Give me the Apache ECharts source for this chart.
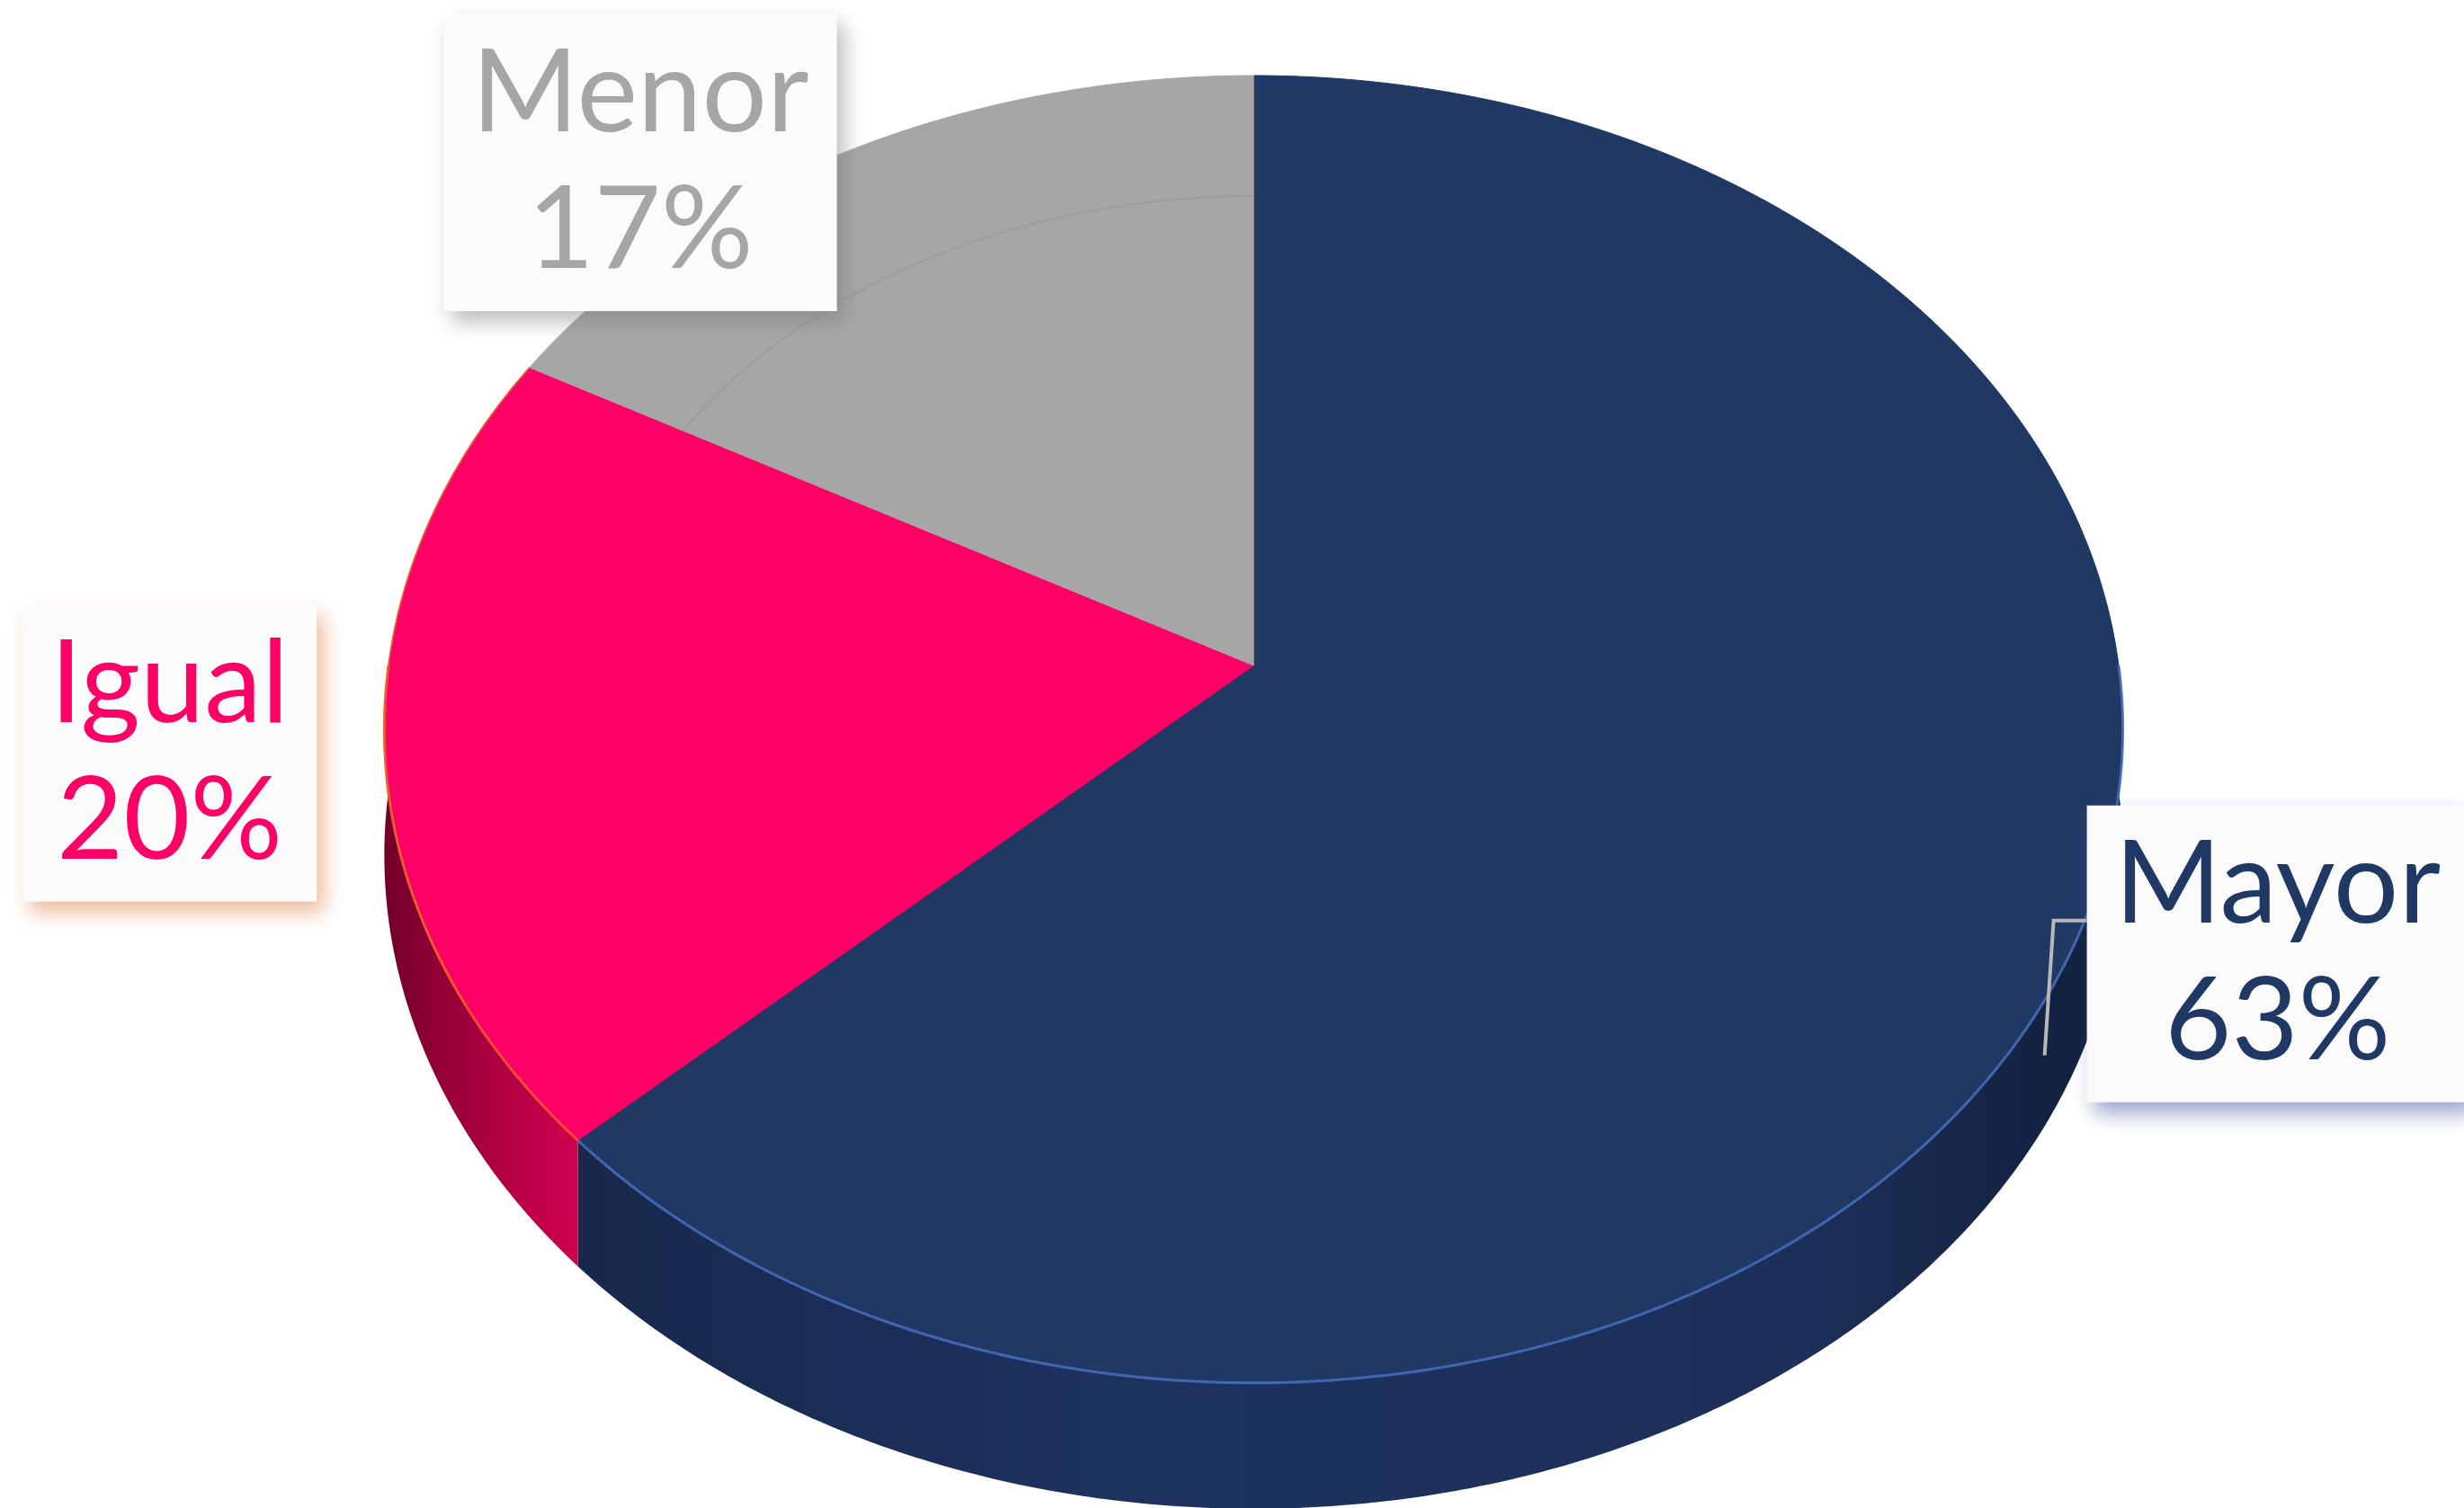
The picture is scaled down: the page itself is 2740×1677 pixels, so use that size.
<!DOCTYPE html>
<html>
<head>
<meta charset="utf-8">
<script src="https://cdn.jsdelivr.net/npm/echarts@6/dist/echarts.min.js"></script>
<style>
  html, body { margin: 0; padding: 0; background: #fff; }
  #chart { width: 2740px; height: 1677px; }
</style>
</head>
<body>
<div id="chart"></div>
<script>
// datos
var categorias = ['Mayor', 'Igual', 'Menor'];
var valores = [63, 20, 17];
var colores = ['#203864', '#FF0066', '#A6A6A6'];

// colores del costado (oscuro izq -> der)
var coloresLado = [
  ['#18284C', '#1E3260', '#1C2F58', '#121E3A'],
  ['#72002A', '#9A0038', '#C2004A', '#D0004F'],
  ['#7A7A7A', '#8E8E8E', '#8E8E8E', '#7A7A7A']
];
var sombrasCaja = ['rgba(70,90,160,0.55)', 'rgba(225,140,90,0.6)', 'rgba(120,120,120,0.5)'];
var biselAlfa = [0, 0, 0.06];
// ajuste de posicion de etiquetas respecto al ancla
var ajusteEtiqueta = [[-21, -55], [6, -17], [-128, 142]];

// geometria de la torta en perspectiva
var CX = 1394, CY = 740, RX = 962, RY = 720, P = 0.0976, PROF = 140;
var FUENTE = '128px Lato, "Noto Sans", sans-serif';

var total = 0, acum = [];
for (var i = 0; i < valores.length; i++) { acum.push(total); total += valores[i]; }

function proj(theta, r, h) {
  var a = theta * Math.PI / 180;
  var u = r * Math.sin(a), v = -r * Math.cos(a);
  var s = 1 / (1 - P * v);
  return [CX + RX * u * s, CY + RY * v * s + (h || 0)];
}
function arco(t1, t2, r, h) {
  var pts = [], n = Math.max(2, Math.ceil(Math.abs(t2 - t1) / 0.5));
  for (var k = 0; k <= n; k++) pts.push(proj(t1 + (t2 - t1) * k / n, r, h));
  return pts;
}

var ctxMedida = document.createElement('canvas').getContext('2d');
ctxMedida.font = FUENTE;

function renderItem(params, api) {
  var idx = params.dataIndex;
  var val = api.value(0);
  var t1 = acum[idx] / total * 360;
  var t2 = t1 + val / total * 360;
  var hijos = [];

  // costado visible (frente: 90..270)
  var a = Math.max(t1, 90), b = Math.min(t2, 270);
  if (b > a) {
    var sup = arco(a, b, 1, 0);
    var inf = arco(b, a, 1, PROF);
    var c = coloresLado[idx];
    hijos.push({
      type: 'polygon', z2: 1,
      shape: { points: sup.concat(inf) },
      style: {
        fill: new echarts.graphic.LinearGradient(0, 0, 1, 0, [
          { offset: 0, color: c[0] }, { offset: 0.35, color: c[1] },
          { offset: 0.8, color: c[2] }, { offset: 1, color: c[3] }
        ])
      }
    });
  }

  // cara superior
  var pts = [[CX, CY]].concat(arco(t1, t2, 1, 0));
  hijos.push({
    type: 'polygon', z2: 10,
    shape: { points: pts },
    style: { fill: colores[idx], stroke: colores[idx], lineWidth: 1 }
  });
  // bisel tenue
  if (biselAlfa[idx] > 0) {
    hijos.push({
      type: 'polyline', z2: 11,
      shape: { points: arco(t1, t2, 0.78, 0) },
      style: { fill: null, stroke: 'rgba(0,0,0,' + biselAlfa[idx] + ')', lineWidth: 2 }
    });
  }
  // brillo en el borde frontal
  if (b > a) {
    hijos.push({
      type: 'polyline', z2: 12,
      shape: { points: arco(a, b, 1, 0) },
      style: { fill: null, stroke: idx === 0 ? 'rgba(72,110,190,0.85)' : 'rgba(235,90,40,0.85)', lineWidth: 3 }
    });
  }
  if (idx === 1) {
    hijos.push({
      type: 'polyline', z2: 12,
      shape: { points: arco(Math.max(t1, 240), t2, 1, 0) },
      style: { fill: null, stroke: 'rgba(230,100,50,0.8)', lineWidth: 2 }
    });
  }

  // etiqueta
  var medio = (t1 + t2) / 2;
  var ancla = proj(medio, 1.25, 0);
  var lx = ancla[0] + ajusteEtiqueta[idx][0];
  var ly = ancla[1] + ajusteEtiqueta[idx][1];
  var pct = Math.round(val / total * 100) + '%';
  var ancho = Math.max(ctxMedida.measureText(categorias[idx]).width, ctxMedida.measureText(pct).width) + 62;
  var alto = 330;

  if (idx === 0) {
    // linea guia
    var bx = lx - ancho / 2;
    hijos.push({
      type: 'polyline', z2: 18,
      shape: { points: [[bx, ly - 37], [bx - 37, ly - 37], [bx - 47, ly + 113]] },
      style: { fill: null, stroke: '#B8B8B8', lineWidth: 4 }
    });
  }
  hijos.push({
    type: 'rect', z2: 20,
    shape: { x: lx - ancho / 2, y: ly - alto / 2, width: ancho, height: alto },
    style: {
      fill: '#FBFBFC',
      shadowBlur: 22, shadowColor: sombrasCaja[idx], shadowOffsetX: 8, shadowOffsetY: 12
    }
  });
  hijos.push({
    type: 'text', z2: 21, x: lx, y: ly - 76,
    style: { text: categorias[idx], fill: colores[idx], font: FUENTE, align: 'center', verticalAlign: 'middle' }
  });
  hijos.push({
    type: 'text', z2: 21, x: lx, y: ly + 76,
    style: { text: pct, fill: colores[idx], font: FUENTE, align: 'center', verticalAlign: 'middle' }
  });

  return { type: 'group', children: hijos };
}

var chart = echarts.init(document.getElementById('chart'));
var option = {
  backgroundColor: '#ffffff',
  animation: false,
  series: [{
    type: 'custom',
    coordinateSystem: 'none',
    renderItem: renderItem,
    data: valores.map(function (v, i) { return { name: categorias[i], value: [v] }; })
  }]
};
chart.setOption(option);
</script>
</body>
</html>
